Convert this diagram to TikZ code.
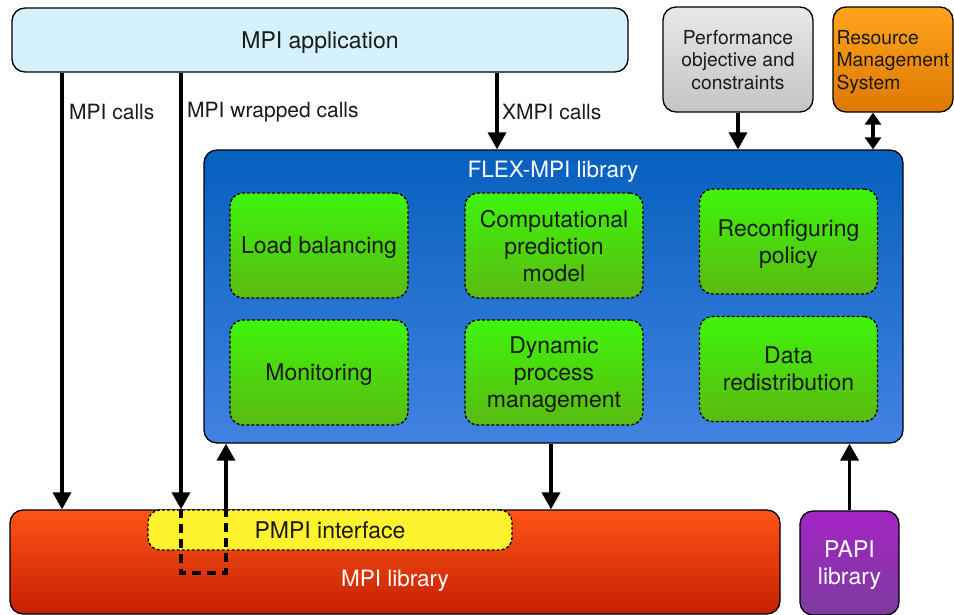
\documentclass[tikz,border=0pt]{standalone}
\usepackage{fontspec}
\setmainfont{TeX Gyre Heros}
\usetikzlibrary{arrows.meta}
\definecolor{appblue}{HTML}{D5F1FC}
\definecolor{perftop}{HTML}{E8E8E8}
\definecolor{perfbot}{HTML}{C4C4C4}
\definecolor{rmstop}{HTML}{FFA41E}
\definecolor{rmsbot}{HTML}{DE7800}
\definecolor{flextop}{HTML}{0660BE}
\definecolor{flexbot}{HTML}{4282E2}
\definecolor{gtop}{HTML}{3EF40A}
\definecolor{gbot}{HTML}{5BBA12}
\definecolor{mpitop}{HTML}{FF5418}
\definecolor{mpibot}{HTML}{C42000}
\definecolor{pmpiyel}{HTML}{FFF22E}
\definecolor{papitop}{HTML}{A424C4}
\definecolor{papibot}{HTML}{7C3C9E}
\definecolor{txt}{HTML}{1A1A1A}
\tikzset{
  frame/.style={draw=black, line width=1.3pt, rounded corners=13pt, text=txt,
    font=\fontsize{23}{27}\selectfont},
  box/.style={frame, align=center, inner sep=0pt, text depth=0pt},
  gbox/.style={box, dash pattern=on 3pt off 2pt, top color=gtop, bottom color=gbot,
    minimum width=178pt, minimum height=105pt},
  lbl/.style={anchor=west, text=txt, font=\fontsize{21}{24}\selectfont, inner sep=0pt},
  ttl/.style={text=white, font=\fontsize{22.5}{27}\selectfont, inner sep=0pt, text depth=0pt},
  arr/.style={line width=3.5pt, -{Triangle[length=17pt,width=18pt]}},
  dsh/.style={line width=3.5pt, dash pattern=on 9pt off 6pt},
}
\begin{document}
\begin{tikzpicture}[x=1pt,y=-1pt]
\useasboundingbox (0,0) rectangle (954,614);
% boxes
\node[box, fill=appblue, minimum width=616pt, minimum height=64pt] (app) at (320,40) {MPI application};
\node[box, top color=perftop, bottom color=perfbot, minimum width=150pt, minimum height=105pt,
  font=\fontsize{19.3}{22.5}\selectfont] (perf) at (738,59.5) {Performance\\objective and\\constraints};
\node[frame, top color=rmstop, bottom color=rmsbot, text width=112pt, inner xsep=4pt, inner ysep=0pt,
  minimum height=105pt, align=left, font=\fontsize{19.3}{22.5}\selectfont] (rms) at (893,59.5) {};
\node[anchor=west, text width=112pt, align=left, inner sep=0pt, text=txt,
  font=\fontsize{19.3}{22.5}\selectfont] (rmst) at ([xshift=4pt,yshift=-2.5pt]rms.west) {Resource\\Management\\System};
\node[box, top color=flextop, bottom color=flexbot, minimum width=699pt, minimum height=293pt] (flex) at (553.5,296.5) {};
\node[ttl] (flext) at (553,169) {FLEX-MPI library};
\node[gbox] (lb) at (319,245.5) {Load balancing};
\node[gbox] (cpm) at (554,245.5) {Computational\\prediction\\model};
\node[gbox] (rp) at (788.5,241.5) {Reconfiguring\\policy};
\node[gbox] (mon) at (319,372.5) {Monitoring};
\node[gbox] (dpm) at (554,372.5) {Dynamic\\process\\management};
\node[gbox] (dr) at (788.5,369) {Data\\redistribution};
\node[box, top color=mpitop, bottom color=mpibot, minimum width=770pt, minimum height=104pt] (mpilib) at (395,562) {};
\node[ttl] (mpilibt) at (395,578) {MPI library};
\node[box, fill=pmpiyel, dash pattern=on 3pt off 2pt, rounded corners=12pt, minimum width=364pt, minimum height=40pt] (pmpi) at (330,530) {PMPI interface};
\node[box, top color=papitop, bottom color=papibot, minimum width=99pt, minimum height=104pt, text=white] (papi) at (849.5,563) {PAPI\\library};
% coordinates for connectors
\coordinate (c1) at (62,0);
\coordinate (c2) at (181,0);
\coordinate (c3) at (226,0);
\coordinate (c4) at (497,0);
\coordinate (c5) at (551,0);
\coordinate (c6) at (873,0);
\coordinate (w1) at (181,573);
\coordinate (w2) at (226,573);
% connectors
\draw[arr] (app.south -| c1) -- (mpilib.north -| c1);
\draw[arr] (app.south -| c2) -- (mpilib.north -| c2);
\draw[dsh] (mpilib.north -| c2) -- (w1) -- (w2) -- (mpilib.north -| c3);
\draw[arr] (mpilib.north -| c3) -- (flex.south -| c3);
\draw[arr] (app.south -| c4) -- (flex.north -| c4);
\draw[arr] (perf.south) -- (flex.north -| perf.south);
\draw[line width=3.5pt, {Triangle[length=12pt,width=16pt]}-{Triangle[length=12pt,width=16pt]}] (rms.south -| c6) -- (flex.north -| c6);
\draw[arr] (flex.south -| c5) -- (mpilib.north -| c5);
\draw[arr] (papi.north) -- (flex.south -| papi.north);
% labels
\node[lbl] (l1) at (69,112) {MPI calls};
\node[lbl] (l2) at (187,112) {MPI wrapped calls};
\node[lbl] (l3) at (502,112) {XMPI calls};
\end{tikzpicture}
\end{document}
